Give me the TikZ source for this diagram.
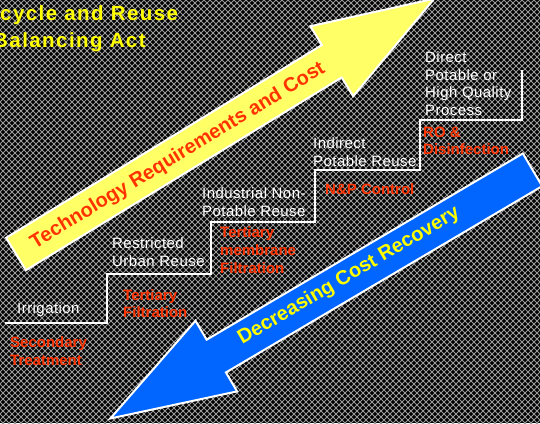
\documentclass[tikz,border=0pt]{standalone}
\usepackage{fontspec}
\setmainfont{Liberation Sans}
\definecolor{bgline}{HTML}{9A9A9A}
\definecolor{techyellow}{HTML}{FFFF66}
\definecolor{costblue}{HTML}{0066FF}
\definecolor{procred}{HTML}{FF3300}
\definecolor{titleyellow}{HTML}{FFFF00}
\tikzset{
  bgstroke/.style={draw=bgline, line width=1pt},
  bigarrow/.style={draw=white, line width=2pt, line join=miter},
  stairline/.style={draw=white, line width=2pt},
  titletext/.style={text=titleyellow, anchor=north west, inner sep=0pt,
    font=\fontsize{20.5}{27}\selectfont\bfseries\addfontfeatures{LetterSpace=7}},
  uselabel/.style={text=white, align=left, anchor=north west, inner sep=0pt,
    font=\fontsize{15}{17.6}\selectfont\addfontfeatures{LetterSpace=3}},
  treatlabel/.style={text=procred, align=left, anchor=north west, inner sep=0pt,
    font=\fontsize{15}{17.8}\selectfont\bfseries},
  arrowtext/.style={inner sep=0pt, font=\fontsize{20}{24}\selectfont\bfseries},
}
\begin{document}
\begin{tikzpicture}[x=1pt,y=-1pt]
\useasboundingbox (0,0) rectangle (540,423);
\begin{scope}
\clip (0,0) rectangle (540,423);
% textured dark backdrop
\fill[black] (0,0) rectangle (540,423);
\foreach \k in {-426,-420,...,540} \draw[bgstroke] (\k,0) -- ++(426,426);
\foreach \k in {0,6,...,966} \draw[bgstroke] (\k,0) -- ++(-426,426);

% title
\node[titletext] (title1) at (0,5.5) {cycle and Reuse};
\node[titletext] (title2) at (-7,32.5) {Balancing Act};

% rising arrow
\begin{scope}[shift={(16,254)}, rotate=31.4]
  \path[bigarrow, fill=techyellow]
    (0,-19) -- (370,-19) -- (370,-41) -- (490,0) -- (370,41) -- (370,19) -- (0,19) -- cycle;
\end{scope}
\node[arrowtext, text=procred, rotate=31.4] (techlabel) at (178,156)
  {Technology Requirements and Cost};

% falling arrow
\begin{scope}[shift={(532.5,169.8)}, rotate=210.5]
  \path[bigarrow, fill=costblue]
    (0,-19) -- (367,-19) -- (367,-41) -- (490,0) -- (367,41) -- (367,19) -- (0,19) -- cycle;
\end{scope}
\node[arrowtext, text=titleyellow, rotate=30.5] (costlabel) at (349,276)
  {Decreasing Cost Recovery};

% staircase of reuse levels
\coordinate (s0) at (5,323);
\coordinate (s1) at (107,274);
\coordinate (s2) at (211,222);
\coordinate (s3) at (315,170);
\coordinate (s4) at (420,120);
\coordinate (s5) at (522,70);
\draw[stairline] (s0) -| (s1) -| (s2) -| (s3) -| (s4) -| (s5);

% reuse levels
\node[uselabel] (irr) at (17,302.5) {Irrigation};
\node[uselabel] (urban) at (112,237.5) {Restricted\\Urban Reuse};
\node[uselabel] (indus) at (202,187.5) {Industrial Non-\\Potable Reuse};
\node[uselabel] (indir) at (313,137.5) {Indirect\\Potable Reuse};
\node[uselabel] (direct) at (425,51.5) {Direct\\Potable or\\High Quality\\Process};

% treatment levels
\node[treatlabel] (second) at (10,336.5) {Secondary\\Treatment};
\node[treatlabel] (tfilt) at (123,289) {Tertiary\\Filtration};
\node[treatlabel] (tmem) at (220,226.5) {Tertiary\\membrane\\Filtration};
\node[treatlabel] (npc) at (325,183.5) {N\&P Control};
\node[treatlabel] (ro) at (423,126.5) {RO \&\\Disinfection};
\end{scope}
\end{tikzpicture}
\end{document}
